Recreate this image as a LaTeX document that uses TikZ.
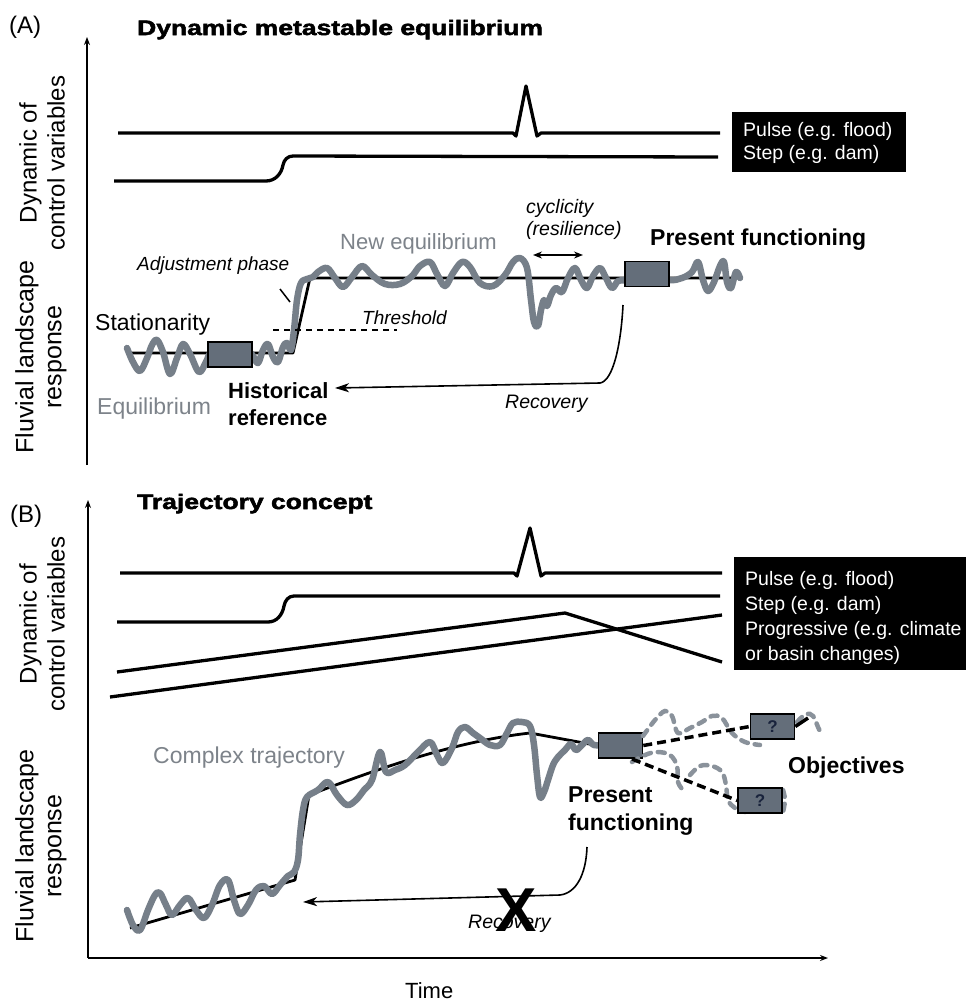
\documentclass[tikz,border=0pt]{standalone}
\usepackage{fontspec}
\setmainfont{Liberation Sans}
\newfontfamily\heavyfont[FakeStretch=1.26,FakeBold=2.5]{Liberation Sans}
\usetikzlibrary{arrows.meta}
\definecolor{wavegray}{RGB}{118,127,137}
\definecolor{txtgray}{RGB}{125,131,138}
\definecolor{boxfill}{RGB}{100,110,122}
\definecolor{qcol}{RGB}{25,35,60}
\begin{document}
\begin{tikzpicture}[x=1pt,y=-1pt,
  tx/.style={inner sep=0pt, anchor=base west, font=\fontsize{23}{27}\selectfont},
  bx/.style={tx, font=\fontsize{23}{27}\selectfont\bfseries},
  itx/.style={tx, font=\fontsize{19.5}{23}\selectfont\itshape},
  lgx/.style={tx, text=white, font=\fontsize{19.5}{23}\selectfont},
  ttl/.style={tx, font=\fontsize{21}{25}\selectfont\heavyfont\bfseries},
  ylab/.style={rotate=90, align=center, inner sep=0pt, font=\fontsize{24}{28}\selectfont},
  ctl/.style={line width=3.3pt, line join=round},
  trend/.style={line width=2.8pt, line join=round},
  wave/.style={wavegray, line width=6.5pt, line join=round, line cap=round},
  gbox/.style={draw, line width=1.6pt, fill=boxfill, minimum width=44pt, minimum height=25pt, inner sep=0pt, text=qcol, font=\fontsize{17}{17}\selectfont\bfseries},
  legbox/.style={fill=black, inner sep=0pt, anchor=north west},
  axis/.style={line width=2pt, -{Stealth[length=8pt,width=6pt]}},
  arr/.style={line width=1.6pt, -{Stealth[length=14pt,width=9pt,inset=4pt]}},
  darr/.style={line width=1.6pt, {Stealth[length=9pt,width=7pt,inset=3pt]}-{Stealth[length=9pt,width=7pt,inset=3pt]}},
  futdash/.style={line width=3.5pt, dash pattern=on 9pt off 5pt},
  grdash/.style={wavegray!85, line width=4.5pt, dash pattern=on 7pt off 7pt, line cap=round}
]
\useasboundingbox[fill=white] (0,0) rectangle (966,1001);

%================ PANEL A ================
\node[tx, font=\fontsize{24}{28}\selectfont] (lblA) at (9,33) {(A)};
\node[ttl] (titleA) at (137,35) {Dynamic metastable equilibrium};
\coordinate (axA0) at (87,465);
\coordinate (axA1) at (87,37);
\draw[axis] (axA0) -- (axA1);
\node[ylab] (ylA1) at (42,163) {Dynamic of\\control variables};
\node[ylab, font=\fontsize{25}{28}\selectfont] (ylA2) at (41,357) {Fluvial landscape\\response};

% control variables A
\draw[ctl] (118,133) -- (513,133) -- (516,136) -- (526,86) -- (537,136) -- (541,133) -- (720,133);
\draw[ctl] (114,181) -- (266,181) to[out=0,in=-100] (283,165) to[out=80,in=180] (293,156) -- (718,157);
\node[legbox, minimum width=174pt, minimum height=60pt] (legA) at (732,112) {};
\node[lgx] (legA1) at (743,136) {Pulse (e.g. flood)};
\node[lgx] (legA2) at (743,159) {Step (e.g. dam)};

% response A
\draw[trend] (130,353) -- (293,353) -- (310,278) -- (738,278);
\draw[wave] plot[smooth, tension=0.6] coordinates {(127,348) (133,362) (140,371) (147,358) (152,345) (157,340) (163,352) (170,374) (177,358) (183,344) (190,354) (199,372) (206,362) (212,352) (230,352) (248,352) (253,356) (258,363) (263,350) (268,344) (273,357) (278,362) (283,347) (287,343) (291,350) (294,330) (297,300) (301,283) (307,279) (313,277) (318,272) (327,268) (335,278) (343,287) (352,277) (362,266) (372,275) (385,284) (400,284) (412,276) (420,266) (430,262) (437,274) (445,286) (453,273) (462,262) (470,267) (480,283) (493,286) (505,275) (513,262) (520,258) (527,268) (531,300) (534,322) (538,326) (541,310) (544,300) (547,306) (551,295) (556,288) (562,292) (568,278) (575,268) (581,280) (587,288) (593,276) (600,268) (606,278) (612,288) (618,281) (625,280) (647,274) (669,280) (682,278) (692,272) (698,262) (703,280) (708,291) (714,282) (720,266) (724,262) (727,282) (731,288) (736,272) (740,278)};
\node[gbox] (boxHist) at (230,354.5) {};
\node[gbox] (boxPresA) at (647,274) {};

\coordinate (thr0) at (273,330);
\coordinate (thr1) at (397,330);
\draw[line width=1.5pt, dash pattern=on 6pt off 5pt] (thr0) -- (thr1);
\coordinate (adj0) at (280,289);
\coordinate (adj1) at (290,302);
\draw[line width=1.5pt] (adj0) -- (adj1);
\coordinate (cyc0) at (533,255);
\coordinate (cyc1) at (583,255);
\draw[darr] (cyc0) -- (cyc1);

\node[tx] (stat) at (95,330) {Stationarity};
\node[tx, text=txtgray] (equi) at (97,414) {Equilibrium};
\node[bx, font=\fontsize{22}{26}\selectfont\bfseries] (hist1) at (228,398) {Historical};
\node[bx, font=\fontsize{22}{26}\selectfont\bfseries] (hist2) at (228,425) {reference};
\node[itx, font=\fontsize{19}{23}\selectfont\itshape] (adjust) at (137,270) {Adjustment phase};
\node[itx, font=\fontsize{19}{23}\selectfont\itshape] (thresh) at (362,324) {Threshold};
\node[tx, font=\fontsize{22}{26}\selectfont, text=txtgray] (neweq) at (340,249) {New equilibrium};
\node[itx] (cyc) at (526,213) {cyclicity};
\node[itx] (resil) at (526,235) {(resilience)};
\node[bx] (presA) at (650,245) {Present functioning};
\node[itx] (recA) at (505,408) {Recovery};

\coordinate (recA0) at (623,305);
\coordinate (recA1) at (600,383);
\coordinate (recA2) at (335,388);
\draw[arr] (recA0) .. controls (621,345) and (613,381) .. (recA1) -- (recA2);

%================ PANEL B ================
\node[tx, font=\fontsize{24}{28}\selectfont] (lblB) at (10,522) {(B)};
\node[ttl] (titleB) at (137,509) {Trajectory concept};
\coordinate (axB0) at (88,958);
\coordinate (axB1) at (88,500);
\coordinate (axB2) at (828,958);
\draw[axis] (axB0) -- (axB1);
\draw[axis] (axB0) -- (axB2);
\node[tx, font=\fontsize{22}{26}\selectfont] (time) at (405,998) {Time};
\node[ylab] (ylB1) at (42,624) {Dynamic of\\control variables};
\node[ylab, font=\fontsize{25}{28}\selectfont] (ylB2) at (41,846) {Fluvial landscape\\response};

% control variables B
\draw[ctl] (120,573) -- (514,573) -- (517,576) -- (530,528) -- (541,576) -- (545,573) -- (722,573);
\draw[ctl] (117,622) -- (268,622) to[out=0,in=-100] (284,606) to[out=80,in=180] (294,596) -- (720,596);
\draw[ctl] (117,672) -- (565,613) -- (722,662);
\draw[ctl] (110,697) -- (722,615);
\node[legbox, minimum width=232pt, minimum height=113pt] (legB) at (734,557) {};
\node[lgx] (legB1) at (745,585) {Pulse (e.g. flood)};
\node[lgx] (legB2) at (745,610) {Step (e.g. dam)};
\node[lgx] (legB3) at (745,635) {Progressive (e.g. climate};
\node[lgx] (legB4) at (745,660) {or basin changes)};

% response B
\node[gbox] (boxPresB) at (620.5,745.5) {};
\draw[trend] (130,928) -- (295,880) -- (309,795) .. controls (370,772) and (450,742) .. (530,733) -- (boxPresB.west);
\draw[wave] plot[smooth, tension=0.6] coordinates {(127,910) (133,925) (140,930) (148,910) (155,895) (160,893) (166,905) (172,915) (180,905) (188,898) (196,910) (204,918) (212,905) (220,885) (228,880) (234,900) (240,914) (248,905) (256,890) (264,886) (272,894) (280,885) (288,876) (294,872) (298,860) (300,835) (303,810) (307,797) (318,790) (328,782) (337,795) (347,805) (356,800) (364,790) (372,780) (380,752) (386,772) (395,770) (405,765) (418,752) (430,742) (437,755) (443,763) (452,748) (458,732) (465,727) (473,733) (480,738) (490,745) (500,745) (507,733) (513,723) (522,722) (530,726) (534,745) (537,775) (540,797) (544,792) (548,780) (553,765) (558,757) (565,750) (571,744) (576,750) (582,745) (588,740) (594,745) (605,745)};
\node[gbox] (boxPresB) at (620.5,745.5) {};

% future paths
\draw[grdash] plot[smooth, tension=0.6] coordinates {(643,736) (655,720) (665,711) (672,716) (678,733) (690,728) (702,722) (712,716) (722,718) (732,733) (745,742) (760,745)};
\draw[grdash] plot[smooth, tension=0.6] coordinates {(797,722) (806,714) (813,716) (818,727) (822,736)};
\draw[grdash] plot[smooth, tension=0.6] coordinates {(632,762) (645,755) (657,752) (670,755) (677,766) (678,782) (683,790)};
\draw[grdash] plot[smooth, tension=0.6] coordinates {(690,775) (700,766) (712,766) (722,772) (726,785) (728,800) (735,808) (745,812)};
\draw[grdash] plot[smooth, tension=0.6] coordinates {(783,790) (785,800) (783,812)};
\node[gbox] (q1) at (772.5,726.5) {?};
\node[gbox] (q2) at (760,800.5) {?};
\coordinate (fl0) at (632,759);
\coordinate (q1end) at (808,718);
\draw[futdash] (boxPresB.east) -- (q1.west);
\draw[futdash] (fl0) -- (q2.west);
\draw[line width=3.5pt] (q1.east) -- (q1end);

\node[tx, text=txtgray] (cplx) at (153,763) {Complex trajectory};
\node[bx] (presB1) at (568,802) {Present};
\node[bx] (presB2) at (568,830) {functioning};
\node[bx] (objec) at (788,773) {Objectives};
\node[itx] (recB) at (468,928) {Recovery};

\coordinate (recB0) at (587,847);
\coordinate (recB1) at (560,895);
\coordinate (recB2) at (303,902);
\draw[arr] (recB0) .. controls (586,875) and (576,893) .. (recB1) -- (recB2);
\node[inner sep=0pt, font=\fontsize{62}{62}\selectfont\bfseries] (cross) at (516,910) {X};
\end{tikzpicture}
\end{document}
